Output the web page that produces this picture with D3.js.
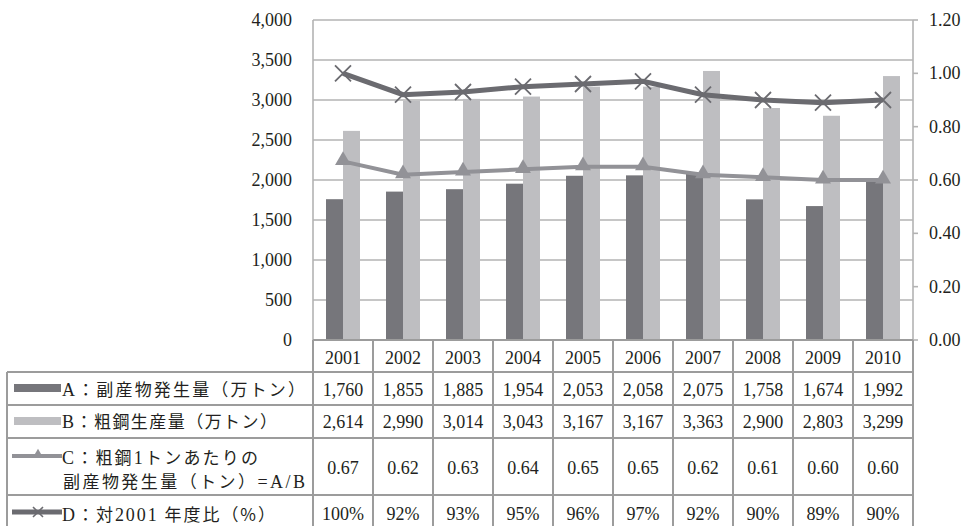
<!DOCTYPE html>
<html>
<head>
<meta charset="utf-8">
<script src="https://cdn.jsdelivr.net/npm/d3@7/dist/d3.min.js"></script>
<style>
  html, body { margin: 0; padding: 0; background: #fff; }
  svg { display: block; }
</style>
</head>
<body>
<svg id="chart" width="966" height="526"></svg>
<script>
// Fiscal years
const years = [2001, 2002, 2003, 2004, 2005, 2006, 2007, 2008, 2009, 2010];
// A: by-product output (10k t)
const byproduct = [1760, 1855, 1885, 1954, 2053, 2058, 2075, 1758, 1674, 1992];
// B: crude steel output (10k t)
const crudeSteel = [2614, 2990, 3014, 3043, 3167, 3167, 3363, 2900, 2803, 3299];
// C: by-product per tonne of crude steel (t)
const perTon = [0.67, 0.62, 0.63, 0.64, 0.65, 0.65, 0.62, 0.61, 0.60, 0.60];
// D: ratio against FY2001 (%)
const ratio = [100, 92, 93, 95, 96, 97, 92, 90, 89, 90];

const leftTicks = [0, 500, 1000, 1500, 2000, 2500, 3000, 3500, 4000];
const rightTicks = [0, 0.2, 0.4, 0.6, 0.8, 1.0, 1.2];

const COL_A = "#76767b";
const COL_B = "#bebec1";
const COL_C = "#929297";
const COL_D = "#6b6b70";
const GRID = "#b3b3b3";
const BORDER = "#9c9c9c";
const INK = "#231f20";
const SERIF = "'Liberation Serif', 'DejaVu Serif', serif";
const JP = "'Noto Sans CJK JP', 'Noto Sans', sans-serif";

const svg = d3.select("#chart");

const plot = { left: 313, right: 913, top: 20, bottom: 340 };

const x = d3.scaleBand().domain(years).range([plot.left, plot.right]);
const inner = d3.scaleBand().domain(["A", "B"]).range([13, 47]);
const yL = d3.scaleLinear().domain([0, 4000]).range([plot.bottom, plot.top]);
const yR = d3.scaleLinear().domain([0, 1.2]).range([plot.bottom, plot.top]);

// Horizontal gridlines
svg.append("g").selectAll("line").data(leftTicks).join("line")
  .attr("x1", plot.left).attr("x2", plot.right)
  .attr("y1", d => yL(d)).attr("y2", d => yL(d))
  .attr("stroke", GRID).attr("stroke-width", 1.6);

// Frame sides
svg.append("line").attr("x1", plot.left).attr("x2", plot.left)
  .attr("y1", plot.top).attr("y2", plot.bottom).attr("stroke", GRID).attr("stroke-width", 1.6);
svg.append("line").attr("x1", plot.right).attr("x2", plot.right)
  .attr("y1", plot.top).attr("y2", plot.bottom).attr("stroke", GRID).attr("stroke-width", 1.6);

// Left axis labels
const fmt = d3.format(",");
svg.append("g").selectAll("text").data(leftTicks).join("text")
  .attr("x", 292).attr("y", d => yL(d)).attr("dy", "0.34em")
  .attr("text-anchor", "end")
  .attr("font-family", SERIF).attr("font-size", 18).attr("fill", INK)
  .text(d => fmt(d));

// Right axis ticks and labels
const rAxis = svg.append("g");
rAxis.selectAll("line").data(rightTicks).join("line")
  .attr("x1", plot.right).attr("x2", plot.right + 5)
  .attr("y1", d => yR(d)).attr("y2", d => yR(d))
  .attr("stroke", GRID).attr("stroke-width", 1.6);
rAxis.selectAll("text").data(rightTicks).join("text")
  .attr("x", 929).attr("y", d => yR(d)).attr("dy", "0.34em")
  .attr("font-family", SERIF).attr("font-size", 18).attr("fill", INK)
  .text(d => d3.format(".2f")(d));

// Bars
const bars = svg.append("g");
years.forEach((yr, i) => {
  [["A", byproduct[i], COL_A], ["B", crudeSteel[i], COL_B]].forEach(([k, v, c]) => {
    bars.append("rect")
      .attr("x", x(yr) + inner(k)).attr("width", inner.bandwidth())
      .attr("y", yL(v)).attr("height", yL(0) - yL(v))
      .attr("fill", c);
  });
});

const cx = (d, i) => x(years[i]) + x.bandwidth() / 2;

// Line C with triangle markers
svg.append("path").datum(perTon)
  .attr("d", d3.line().x(cx).y(d => yR(d)))
  .attr("fill", "none").attr("stroke", COL_C).attr("stroke-width", 4);
const tri = d3.symbol().type(d3.symbolTriangle);
svg.append("g").selectAll("path").data(perTon).join("path")
  .attr("transform", (d, i) => `translate(${cx(d, i)},${yR(d) - 1})`)
  .attr("d", tri.size(110)())
  .attr("fill", COL_C);

// Line D with cross markers
svg.append("path").datum(ratio)
  .attr("d", d3.line().x(cx).y(d => yR(d / 100)))
  .attr("fill", "none").attr("stroke", COL_D).attr("stroke-width", 5);
svg.append("g").selectAll("path").data(ratio).join("path")
  .attr("transform", (d, i) => `translate(${cx(d, i)},${yR(d / 100)})`)
  .attr("d", "M-8,-8L8,8M-8,8L8,-8")
  .attr("fill", "none").attr("stroke", COL_D).attr("stroke-width", 1.8);

// ---- Data table ----
const rowEdges = [340, 372, 405, 438, 495, 530];
const tableLeft = 7;
const tbl = svg.append("g").attr("stroke", BORDER).attr("stroke-width", 2);

// horizontal rules
tbl.append("line").attr("x1", plot.left).attr("x2", plot.right).attr("y1", rowEdges[0]).attr("y2", rowEdges[0]);
rowEdges.slice(1, 5).forEach(y => {
  tbl.append("line").attr("x1", tableLeft).attr("x2", plot.right).attr("y1", y).attr("y2", y);
});
// vertical rules
tbl.append("line").attr("x1", tableLeft).attr("x2", tableLeft).attr("y1", rowEdges[1]).attr("y2", 530);
d3.range(years.length + 1).forEach(j => {
  const xv = plot.left + j * x.bandwidth();
  tbl.append("line").attr("x1", xv).attr("x2", xv).attr("y1", rowEdges[0]).attr("y2", 530);
});

// cell values
const valueRows = [
  { vals: years.map(String), base: 364 },
  { vals: byproduct.map(fmt), base: 396 },
  { vals: crudeSteel.map(fmt), base: 428 },
  { vals: perTon.map(d3.format(".2f")), base: 474 },
  { vals: ratio.map(d => d + "%"), base: 520 }
];
valueRows.forEach(r => {
  svg.append("g").selectAll("text").data(r.vals).join("text")
    .attr("x", (d, i) => x(years[i]) + x.bandwidth() / 2)
    .attr("y", r.base)
    .attr("text-anchor", "middle")
    .attr("font-family", SERIF).attr("font-size", 18).attr("fill", INK)
    .text(d => d);
});

// row headers with legend keys
function label(parts, x0, base, width) {
  const t = svg.append("text").attr("x", x0).attr("y", base)
    .attr("font-size", 17).attr("fill", INK);
  parts.forEach(([s, latin]) => {
    t.append("tspan").attr("font-family", latin ? SERIF : JP)
      .attr("font-size", latin ? 18 : 17).text(s);
  });
  t.attr("textLength", width).attr("lengthAdjust", "spacing");
  return t;
}

svg.append("rect").attr("x", 14).attr("y", 384).attr("width", 47).attr("height", 8).attr("fill", COL_A);
label([["A", true], ["：副産物発生量（万トン）", false]], 62, 396, 243);

svg.append("rect").attr("x", 14).attr("y", 417).attr("width", 47).attr("height", 8).attr("fill", COL_B);
label([["B", true], ["：粗鋼生産量（万トン）", false]], 62, 428, 215);

svg.append("line").attr("x1", 12).attr("x2", 62).attr("y1", 456).attr("y2", 456)
  .attr("stroke", COL_C).attr("stroke-width", 4);
svg.append("path").attr("transform", "translate(38,455)").attr("d", tri.size(50)()).attr("fill", COL_C);
label([["C", true], ["：粗鋼", false], ["1", true], ["トンあたりの", false]], 62, 464, 196);
label([["副産物発生量（トン）", false], ["=A/B", true]], 63, 488, 242);

svg.append("line").attr("x1", 12).attr("x2", 62).attr("y1", 512).attr("y2", 512)
  .attr("stroke", COL_D).attr("stroke-width", 5);
svg.append("path").attr("transform", "translate(38,512)").attr("d", "M-5,-5L5,5M-5,5L5,-5")
  .attr("fill", "none").attr("stroke", COL_D).attr("stroke-width", 1.6);
label([["D", true], ["：対", false], ["2001", true], [" 年度比（%）", false]], 62, 521, 213);
</script>
</body>
</html>
